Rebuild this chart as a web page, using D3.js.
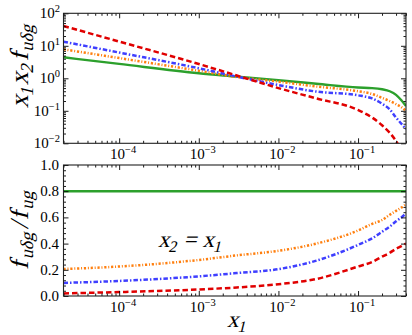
<!DOCTYPE html>
<html>
<head>
<meta charset="utf-8">
<script src="https://cdn.jsdelivr.net/npm/d3@7"></script>
<style>
  body { margin: 0; background: #fff; }
</style>
</head>
<body>
<svg id="chart" width="412" height="335"></svg>
<script>
var width = 412, height = 335;
var serif = "'Liberation Serif', 'Times New Roman', serif";

// x1 sample points (shared by all curves)
var xVals = [2e-5, 1e-4, 1e-3, 3e-3, 1e-2, 3e-2, 0.1, 0.15, 0.2, 0.25, 0.3, 0.35, 0.4];

// top panel: x1 x2 f_udg
var greenTop  = [4.43, 2.77, 1.43, 1.13, 0.87, 0.68, 0.52, 0.50, 0.46, 0.40, 0.31, 0.21, 0.14];
var orangeTop = [7.8, 4.2, 1.71, 1.10, 0.79, 0.56, 0.40, 0.33, 0.25, 0.20, 0.16, 0.13, 0.10];
var blueTop   = [13.4, 6.2, 2.04, 1.13, 0.62, 0.39, 0.30, 0.24, 0.165, 0.11, 0.062, 0.04, 0.027];
var redTop    = [40.7, 13.5, 2.75, 1.22, 0.50, 0.24, 0.106, 0.062, 0.036, 0.021, 0.0117, 0.006, 0.003];

// bottom panel: f_udg / f_ug
var greenBot  = [0.8, 0.8, 0.8, 0.8, 0.8, 0.8, 0.8, 0.8, 0.8, 0.8, 0.8, 0.8, 0.8];
var orangeBot = [0.206, 0.225, 0.275, 0.31, 0.345, 0.40, 0.50, 0.55, 0.58, 0.62, 0.65, 0.675, 0.70];
var blueBot   = [0.10, 0.115, 0.15, 0.175, 0.205, 0.27, 0.39, 0.44, 0.49, 0.53, 0.57, 0.60, 0.63];
var redBot    = [0.02, 0.03, 0.05, 0.065, 0.09, 0.13, 0.225, 0.26, 0.30, 0.33, 0.36, 0.38, 0.40];

var xMajor = [1e-4, 1e-3, 1e-2, 1e-1];
var xMajorExp = ["−4", "−3", "−2", "−1"];
var yTopMajor = [1e-2, 1e-1, 1, 10, 100];
var yTopExp = ["−2", "−1", "0", "1", "2"];
var yBotMajor = [0, 0.2, 0.4, 0.6, 0.8, 1.0];

var styles = [
    {color: "#2ca02c", dash: null, w: 2.4},
    {color: "#ff7f0e", dash: "2.2,1.8,1,1.8", w: 2.5},
    {color: "#3f3fff", dash: "4.5,2,1.5,2", w: 2.5},
    {color: "#e00000", dash: "5.5,3", w: 2.5}
];

var svg = d3.select("#chart");
var left = 63.5, right = 406;

var x = d3.scaleLog().domain([2e-5, 0.4]).range([left, right]);
var yTop = d3.scaleLog().domain([1e-2, 1e2]).range([143.3, 13.3]);
var yBot = d3.scaleLinear().domain([0, 1]).range([296, 165]);

// minor ticks for log axes
function logMinor(lo, hi) {
    var out = [];
    for (var e = -6; e <= 3; e++) {
        for (var k = 2; k <= 9; k++) {
            var v = k * Math.pow(10, e);
            if (v >= lo * 0.999 && v <= hi * 1.001) out.push(v);
        }
    }
    return out;
}
var xMinor = logMinor(2e-5, 0.4);
var yTopMinor = logMinor(1e-2, 1e2);
var yBotMinor = d3.range(0, 1.001, 0.04).filter(function(v) {
    return Math.abs(Math.round(v / 0.2) * 0.2 - v) > 1e-6;
});

function label(parent) {
    return parent.append("text").style("font-family", serif).attr("fill", "#000");
}

function panel(y, yMajor, yMinor, series, id, yLog) {
    var g = svg.append("g");
    var y0 = y.range()[0], y1 = y.range()[1];

    svg.append("clipPath").attr("id", id)
        .append("rect").attr("x", left).attr("y", y1).attr("width", right - left).attr("height", y0 - y1);

    var line = d3.line()
        .x(function(d) { return x(d[0]); })
        .y(function(d) { return y(Math.max(d[1], yLog ? 1e-4 : -1)); })
        .curve(d3.curveMonotoneX);

    var lines = g.append("g").attr("clip-path", "url(#" + id + ")");
    series.forEach(function(s, i) {
        lines.append("path")
            .datum(xVals.map(function(v, j) { return [v, s[j]]; }))
            .attr("d", line)
            .attr("fill", "none")
            .attr("stroke", styles[i].color)
            .attr("stroke-width", styles[i].w)
            .attr("stroke-dasharray", styles[i].dash);
    });

    // ticks on all four sides, pointing in
    function ticks(axis, vals, size) {
        return axis.tickValues(vals).tickSizeInner(-size).tickSizeOuter(0).tickFormat("");
    }
    var axes = [
        {a: function() { return d3.axisBottom(x); }, t: "translate(0," + y0 + ")", maj: xMajor, min: xMinor},
        {a: function() { return d3.axisTop(x); }, t: "translate(0," + y1 + ")", maj: xMajor, min: xMinor},
        {a: function() { return d3.axisLeft(y); }, t: "translate(" + left + ",0)", maj: yMajor, min: yMinor},
        {a: function() { return d3.axisRight(y); }, t: "translate(" + right + ",0)", maj: yMajor, min: yMinor}
    ];
    axes.forEach(function(ax) {
        var gMin = g.append("g").attr("transform", ax.t).call(ticks(ax.a(), ax.min, 2.5));
        gMin.select(".domain").remove();
        var gMaj = g.append("g").attr("transform", ax.t).call(ticks(ax.a(), ax.maj, 5));
        gMaj.select(".domain").remove();
    });
    g.selectAll(".tick line").attr("stroke", "#000").attr("stroke-width", 0.9);
    g.selectAll(".tick text").remove();

    g.append("rect")
        .attr("x", left).attr("y", y1).attr("width", right - left).attr("height", y0 - y1)
        .attr("fill", "none").attr("stroke", "#222").attr("stroke-width", 1.1);

    // x tick labels
    xMajor.forEach(function(v, i) {
        var t = label(g).attr("x", x(v) + 4).attr("y", y0 + 16)
            .attr("text-anchor", "middle").attr("font-size", 15);
        t.append("tspan").text("10");
        t.append("tspan").attr("dy", -6).attr("font-size", 10.5).text(xMajorExp[i]);
    });
    return g;
}

var gTop = panel(yTop, yTopMajor, yTopMinor, [greenTop, orangeTop, blueTop, redTop], "clipTop", true);
var gBot = panel(yBot, yBotMajor, yBotMinor, [greenBot, orangeBot, blueBot, redBot], "clipBot", false);

// y tick labels
yTopMajor.forEach(function(v, i) {
    var t = label(gTop).attr("x", 60).attr("y", yTop(v) + 5)
        .attr("text-anchor", "end").attr("font-size", 15);
    t.append("tspan").text("10");
    t.append("tspan").attr("dy", -6).attr("font-size", 10.5).text(yTopExp[i]);
});
yBotMajor.forEach(function(v) {
    label(gBot).attr("x", 59).attr("y", yBot(v) + 5)
        .attr("text-anchor", "end").attr("font-size", 15)
        .text(d3.format(".1f")(v));
});

// math-like labels: serif letters slanted (no serif italic face here), subscripts smaller
function mathLabel(parts, size) {
    var t = label(svg).attr("font-size", size);
    var sub = Math.round(size * 0.2);
    var level = 0;
    parts.forEach(function(p) {
        var s = t.append("tspan").text(p.s);
        var want = p.sub ? 1 : 0;
        if (want !== level) { s.attr("dy", want ? sub : -sub); level = want; }
        if (p.sub) s.attr("font-size", size * 0.7);
        if (p.dx) s.attr("dx", p.dx);
    });
    return t;
}

mathLabel([
    {s: "x"}, {s: "1", sub: true}, {s: "x", dx: 1}, {s: "2", sub: true},
    {s: "f", dx: 2}, {s: "uδg", sub: true, dx: 2}
], 26).attr("text-anchor", "middle")
    .attr("transform", "translate(28,66) rotate(-90) skewX(-14)");

mathLabel([
    {s: "f"}, {s: "uδg", sub: true, dx: 3}, {s: "/", dx: 2},
    {s: "f", dx: 2}, {s: "ug", sub: true, dx: 3}
], 26).attr("text-anchor", "middle")
    .attr("transform", "translate(28,230) rotate(-90) skewX(-14)");

// annotation
mathLabel([
    {s: "x"}, {s: "2", sub: true}, {s: "=", dx: 6},
    {s: "x", dx: 6}, {s: "1", sub: true}
], 23).attr("transform", "translate(158,247) skewX(-14)");

// x label
mathLabel([{s: "x"}, {s: "1", sub: true}], 23)
    .attr("transform", "translate(227,327) skewX(-14)");
</script>
</body>
</html>
